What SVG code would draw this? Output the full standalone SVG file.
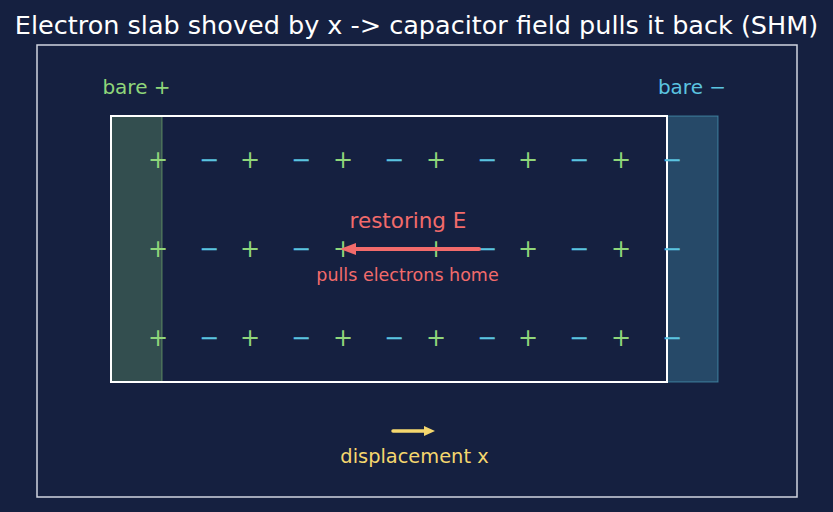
<svg xmlns="http://www.w3.org/2000/svg" width="833" height="512" viewBox="0 0 833 512">
<style>
text{font-family:"DejaVu Sans","Liberation Sans",sans-serif}
.p{fill:#8fd67a;font-size:24px;text-anchor:middle}
.m{fill:#5bc4e0;font-size:24px;text-anchor:middle}
</style>
<defs>
<marker id="ar" markerWidth="16" markerHeight="14" refX="2" refY="7" orient="auto" markerUnits="userSpaceOnUse"><path d="M0,1 L16,7 L0,13 z" fill="#f26b6b"/></marker>
<marker id="ay" markerWidth="11" markerHeight="11" refX="1" refY="5.5" orient="auto" markerUnits="userSpaceOnUse"><path d="M0,0.5 L11,5.5 L0,10.5 z" fill="#f5d76e"/></marker>
</defs>
<rect width="833" height="512" fill="#152040"/>
<text x="416.5" y="34" font-size="25.5" fill="#ffffff" text-anchor="middle">Electron slab shoved by x -&gt; capacitor field pulls it back (SHM)</text>
<rect x="37" y="45" width="760" height="452" fill="none" stroke="#d0d4e0" stroke-width="1.5"/>
<g id="bare-plus">
<rect x="111" y="116" width="51" height="266" fill="#8fd67a" fill-opacity="0.25" stroke="#8fd67a" stroke-opacity="0.5"/>
<text x="136.5" y="94" font-size="20" fill="#8fd67a" text-anchor="middle">bare +</text>
</g>
<g id="bare-minus">
<rect x="667" y="116" width="51" height="266" fill="#5bc4e0" fill-opacity="0.25" stroke="#5bc4e0" stroke-opacity="0.5"/>
<text x="692" y="94" font-size="20" fill="#5bc4e0" text-anchor="middle">bare −</text>
</g>
<g id="slab">
<rect x="111" y="116" width="556" height="266" fill="none" stroke="#ffffff" stroke-width="2"/>
</g>
<g id="charges">
<text class="p" x="158" y="168">+</text><text class="m" x="209" y="168">−</text><text class="p" x="250" y="168">+</text><text class="m" x="301" y="168">−</text><text class="p" x="343" y="168">+</text><text class="m" x="394" y="168">−</text><text class="p" x="436" y="168">+</text><text class="m" x="487" y="168">−</text><text class="p" x="528" y="168">+</text><text class="m" x="579" y="168">−</text><text class="p" x="621" y="168">+</text><text class="m" x="672" y="168">−</text>
<text class="p" x="158" y="257">+</text><text class="m" x="209" y="257">−</text><text class="p" x="250" y="257">+</text><text class="m" x="301" y="257">−</text><text class="p" x="343" y="257">+</text><text class="m" x="394" y="257">−</text><text class="p" x="436" y="257">+</text><text class="m" x="487" y="257">−</text><text class="p" x="528" y="257">+</text><text class="m" x="579" y="257">−</text><text class="p" x="621" y="257">+</text><text class="m" x="672" y="257">−</text>
<text class="p" x="158" y="346">+</text><text class="m" x="209" y="346">−</text><text class="p" x="250" y="346">+</text><text class="m" x="301" y="346">−</text><text class="p" x="343" y="346">+</text><text class="m" x="394" y="346">−</text><text class="p" x="436" y="346">+</text><text class="m" x="487" y="346">−</text><text class="p" x="528" y="346">+</text><text class="m" x="579" y="346">−</text><text class="p" x="621" y="346">+</text><text class="m" x="672" y="346">−</text>
</g>
<g id="connectors">
<line x1="479" y1="249" x2="354" y2="249" stroke="#f26b6b" stroke-width="4" stroke-linecap="round" marker-end="url(#ar)"/>
<line x1="393" y1="431" x2="425" y2="431" stroke="#f5d76e" stroke-width="3.5" stroke-linecap="round" marker-end="url(#ay)"/>
</g>
<g id="labels">
<text x="408" y="228" font-size="21.5" fill="#f26b6b" text-anchor="middle">restoring E</text>
<text x="407.5" y="281" font-size="17.5" fill="#f26b6b" text-anchor="middle">pulls electrons home</text>
<text x="414.5" y="463" font-size="19.4" fill="#f5d76e" text-anchor="middle">displacement x</text>
</g>
</svg>
